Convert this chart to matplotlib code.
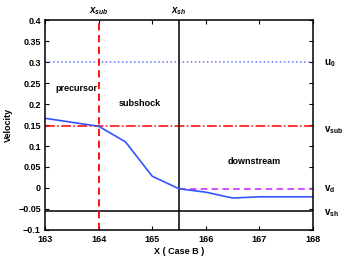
import matplotlib.pyplot as plt

# blue velocity profile
x = [163, 164, 164.5, 165, 165.5, 166, 166.5, 167, 168]
v = [0.166, 0.147, 0.110, 0.028, -0.002, -0.010, -0.024, -0.021, -0.021]

u0 = 0.3
v_sub = 0.147
v_d = -0.002
v_sh = -0.055
x_sub = 164
x_sh = 165.5

plt.rcParams['font.family'] = 'Liberation Sans'
plt.rcParams['font.weight'] = 'bold'
plt.rcParams['mathtext.fontset'] = 'custom'
plt.rcParams['mathtext.rm'] = 'Liberation Sans:bold'
plt.rcParams['mathtext.it'] = 'Liberation Sans:italic:bold'
plt.rcParams['mathtext.bf'] = 'Liberation Sans:bold'

fig = plt.figure(figsize=(3.46, 2.61), dpi=100)
ax = fig.add_axes([0.130, 0.119, 0.775, 0.804])

ax.axhline(u0, color='#6677ff', linestyle=':', lw=1.1)
ax.axhline(v_sub, color='red', linestyle='-.', lw=1.1)
ax.axhline(v_sh, color='black', lw=1.1)
ax.plot([x_sh, 168], [v_d, v_d], color='#cc33ff', linestyle='--', lw=1.2, dashes=(4, 2.5))
ax.axvline(x_sub, color='red', linestyle='--', lw=1.3, dashes=(4, 2.5))
ax.axvline(x_sh, color='black', lw=1.1)
ax.plot(x, v, color='#3355ff', lw=1.2)

ax.set_xlim(163, 168)
ax.set_ylim(-0.1, 0.4)
ax.set_xticks([163, 164, 165, 166, 167, 168])
yt = [-0.1, -0.05, 0, 0.05, 0.1, 0.15, 0.2, 0.25, 0.3, 0.35, 0.4]
ax.set_yticks(yt)
ax.set_yticklabels(['\u22120.1', '\u22120.05', '0', '0.05', '0.1', '0.15', '0.2', '0.25', '0.3', '0.35', '0.4'])
ax.tick_params(direction='in', top=True, right=True, labelsize=6.5, length=3)
ax.tick_params(axis='x', pad=4)
ax.tick_params(axis='y', pad=3)
for lab in ax.get_xticklabels() + ax.get_yticklabels():
    lab.set_fontweight('bold')

ax.set_xlabel('X ( Case B )', fontsize=6.5, fontweight='bold', labelpad=2)
ax.set_ylabel('Velocity', fontsize=6.5, fontweight='bold', labelpad=4)

ax.text(163.2, 0.23, 'precursor', fontsize=6.5, fontweight='bold')
ax.text(164.38, 0.196, 'subshock', fontsize=6.5, fontweight='bold')
ax.text(166.41, 0.058, 'downstream', fontsize=6.5, fontweight='bold')

# labels outside right
for yv, s, dy in [(u0, r'$\mathrm{u_0}$', -0.003), (v_sub, r'$\mathrm{v_{sub}}$', -0.01),
                  (v_d, r'$\mathrm{v_d}$', 0.0), (v_sh, r'$\mathrm{v_{sh}}$', -0.005)]:
    ax.text(168.2, yv + dy, s, fontsize=7, va='center', ha='left', clip_on=False)

ax.text(x_sub, 0.407, r'$x_{sub}$', fontsize=7, ha='center', va='bottom')
ax.text(x_sh, 0.407, r'$x_{sh}$', fontsize=7, ha='center', va='bottom')

for s in ax.spines.values():
    s.set_linewidth(1.1)

fig.savefig('out.png', dpi=100)
